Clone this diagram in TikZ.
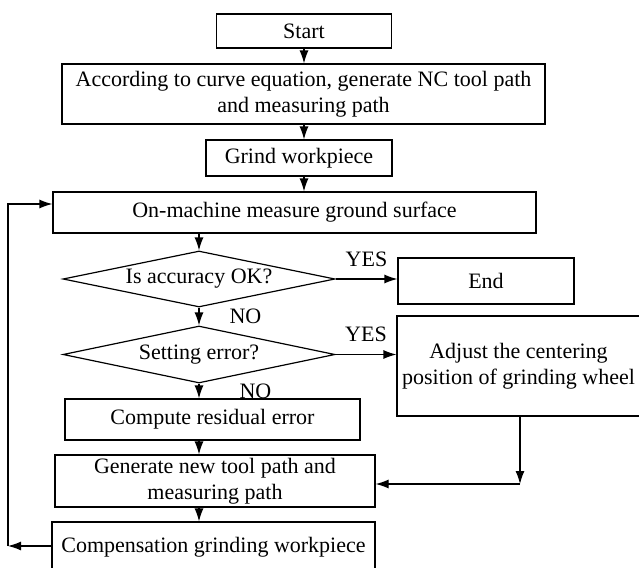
\documentclass[tikz,border=0pt]{standalone}
\usepackage{fontspec}
\setmainfont{Liberation Serif}
\usetikzlibrary{shapes.geometric,arrows.meta,positioning}

\tikzset{
  procbox/.style={draw, align=center, inner sep=1pt, font=\fontsize{11}{13}\selectfont},
  decision/.style={draw, diamond, aspect=4.8, inner sep=0pt, font=\fontsize{11}{13}\selectfont},
  flow/.style={-{Latex[length=6.5pt,width=4.5pt]}},
  lbl/.style={font=\fontsize{11}{13}\selectfont, inner sep=1pt}
}

\begin{document}
\begin{tikzpicture}[x=0.5pt, y=-0.5pt, line width=0.6pt]
\useasboundingbox (0,0) rectangle (639,568);
\clip (0,0) rectangle (639,568);

% main column
\node[procbox, minimum width=87.5pt, minimum height=17pt] (start) at (304,31) {Start};
\node[procbox, minimum width=241.5pt, minimum height=30pt] (curve) at (303.5,94)
  {According to curve equation, generate NC tool path\\ and measuring path};
\node[procbox, minimum width=93pt, minimum height=18pt] (grind) at (299,158) {Grind workpiece};
\node[procbox, minimum width=241.5pt, minimum height=20.5pt] (measure) at (294.5,212.5)
  {On-machine measure ground surface};
\node[decision, minimum width=136pt, minimum height=28pt] (accok) at (199,279) {Is accuracy OK?};
\node[procbox, minimum width=88pt, minimum height=23pt] (endbox) at (486,281) {End};
\node[decision, minimum width=136pt, minimum height=28.5pt] (setting) at (199,354.5) {Setting error?};
\node[procbox, minimum width=121.5pt, minimum height=50pt] (adjust) at (518.5,366)
  {Adjust the centering\\ position of grinding wheel};
\node[procbox, minimum width=147.5pt, minimum height=20.5pt] (residual) at (212.5,419.5)
  {Compute residual error};
\node[procbox, minimum width=160pt, minimum height=26pt] (newpath) at (215,481)
  {Generate new tool path and\\ measuring path};
\node[procbox, minimum width=161.5pt, minimum height=25pt] (compgrind) at (213.5,547)
  {Compensation grinding workpiece};

% turning points
\coordinate (fbbot) at (8,546);
\coordinate (fbtop) at (8,204);
\coordinate (adjturn) at (520,484);

% arrows
\draw[flow] (start) -- (curve.north -| start);
\draw[flow] (curve.south -| start) -- (grind.north -| start);
\draw[flow] (grind.south -| start) -- (measure.north -| start);
\draw[flow] (accok.north |- measure.south) -- (accok.north);
\draw[flow] (accok.east) -- node[lbl, above=5pt] {YES} (accok.east -| endbox.west);
\draw[flow] (accok.south) -- node[lbl, right=14pt] {NO} (setting.north);
\draw[flow] (setting.east) -- node[lbl, above=5pt] {YES} (setting.east -| adjust.west);
\draw[flow] (setting.south) -- node[lbl, right=19pt] {NO} (setting.south |- residual.north);
\draw[flow] (setting.south |- residual.south) -- (setting.south |- newpath.north);
\draw[flow] (setting.south |- newpath.south) -- (setting.south |- compgrind.north);
\draw[flow] (adjust.south -| adjturn) -- (adjturn);
\draw[flow] (adjturn) -- (adjturn -| newpath.east);
\draw[flow] (compgrind.west |- fbbot) -- (fbbot);
\draw[flow] (fbbot) -- (fbtop) -- (fbtop -| measure.west);
\end{tikzpicture}
\end{document}
